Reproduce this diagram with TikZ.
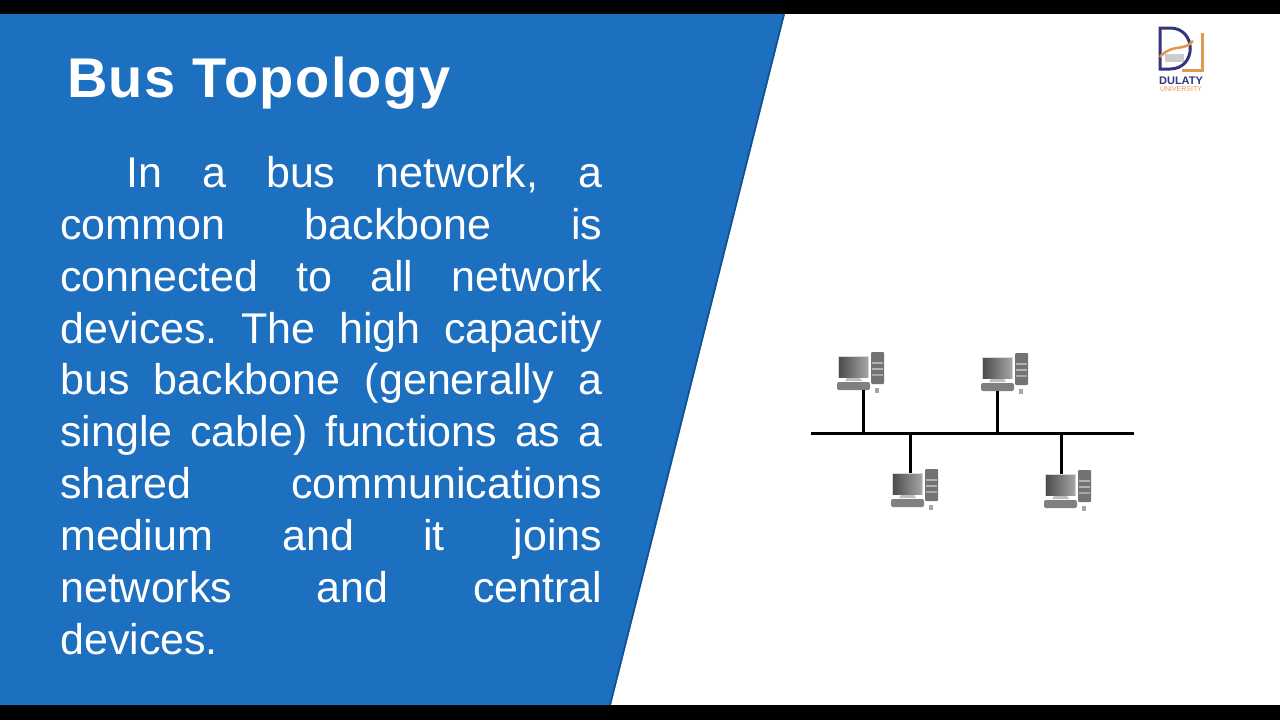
\documentclass[tikz,border=0pt]{standalone}
\usepackage{fontspec}
\setmainfont{Liberation Sans}
\newfontfamily\titlefont[LetterSpace=2.5]{Liberation Sans}
\usetikzlibrary{positioning}

\definecolor{slideblue}{HTML}{1D6FBF}
\definecolor{edgeblue}{HTML}{14508C}
\definecolor{logonavy}{HTML}{35357F}
\definecolor{logoorange}{HTML}{E0994C}

\tikzset{
	cable/.style={black, line width=3pt},
	pics/computer/.style={code={
		% screen and stand
		\fill[gray!30] (-1,-1) rectangle (30,21);
		\shade[left color=black!70, right color=black!35] (0,0) rectangle (29,20);
		\fill[gray!50] (8,21) -- (21,21) -- (23,24) -- (6,24) -- cycle;
		% tower
		\fill[black!55, rounded corners=1pt] (32,-5) rectangle (45,27);
		\fill[black!30] (33,5) rectangle (44,7);
		\fill[black!30] (33,11) rectangle (44,13);
		\fill[black!35] (33,17) rectangle (44,19);
		% keyboard and mouse
		\fill[black!50, rounded corners=2pt] (-2,25) rectangle (31,33);
		\fill[black!35] (36,31) rectangle (40,36);
		\coordinate (-port) at (25,33);
		\coordinate (-top) at (17,-1);
	}},
}

\begin{document}
\frenchspacing
\begin{tikzpicture}[x=1pt, y=-1pt]

	\useasboundingbox (0,0) rectangle (1280,720);

	% black bars and the blue panel
	\fill[white] (0,0) rectangle (1280,720);
	\fill[black] (0,0) rectangle (1280,14);
	\fill[black] (0,705) rectangle (1280,720);
	\fill[slideblue] (0,14) -- (785,14) -- (611,705) -- (0,705) -- cycle;
	\draw[edgeblue, line width=1.5pt] (784,14) -- (610,705);

	% title and body
	\node[anchor=base west, inner sep=0pt, white, font=\titlefont\fontsize{56}{60}\selectfont\bfseries] (Title) at (67,97) {Bus Topology};

	\node[anchor=north west, inner sep=0pt, white, text width=542pt, align=justify,
		font=\fontsize{43}{51.9}\selectfont] (Body) at (60,156) {%
		\hspace*{66pt}In a bus network, a\linebreak
		common backbone is\linebreak
		connected to all network\linebreak
		devices. The high capacity\linebreak
		bus backbone (generally a\linebreak
		single cable) functions as a\linebreak
		shared communications\linebreak
		medium and it joins\linebreak
		networks and central\linebreak
		devices.};

	% logo
	\draw[logonavy, line width=3pt] (1160,28) -- (1170,28) .. controls (1197,28) and (1197,69) .. (1170,69) -- (1160,69) -- cycle;
	\draw[logoorange, line width=3pt] (1202,33) -- (1202,70) -- (1182,70);
	\draw[logoorange, line width=2.5pt] (1160,57) .. controls (1172,43) and (1184,52) .. (1193,41);
	\fill[gray!40] (1165,54) rectangle (1184,62);
	\node[inner sep=0pt, logonavy, font=\fontsize{11}{12}\selectfont\bfseries] (LogoName) at (1181,81) {DULATY};
	\node[inner sep=0pt, logoorange, font=\fontsize{7}{8}\selectfont] (LogoSub) at (1181,89) {UNIVERSITY};

	% computers
	\pic (PCa) at (839,357) {computer};
	\pic (PCb) at (983,358) {computer};
	\pic (PCc) at (893,474) {computer};
	\pic (PCd) at (1046,475) {computer};

	% bus and its taps
	\coordinate (BusL) at (811,433);
	\coordinate (BusR) at (1134,433);
	\coordinate (TapA) at (863,433);
	\coordinate (TapB) at (997,433);
	\coordinate (TapC) at (910,433);
	\coordinate (TapD) at (1061,433);

	\draw[cable] (BusL) -- (BusR);
	\draw[cable] (TapA) -- (TapA |- PCa-port);
	\draw[cable] (TapB) -- (TapB |- PCb-port);
	\draw[cable] (TapC) -- (TapC |- PCc-top);
	\draw[cable] (TapD) -- (TapD |- PCd-top);

\end{tikzpicture}
\end{document}
